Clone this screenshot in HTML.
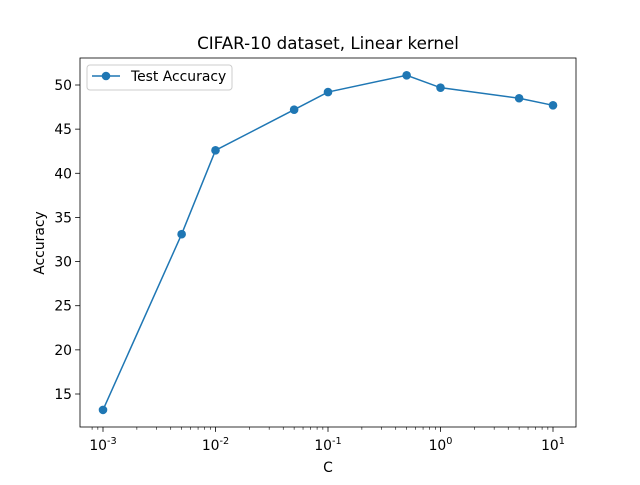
<!DOCTYPE html>
<html><head><meta charset="utf-8"><style>body{margin:0;background:#fff}svg{font-family:"DejaVu Sans","Liberation Sans",sans-serif}</style></head>
<body>
<svg id="c" width="640" height="480" xmlns="http://www.w3.org/2000/svg"></svg>
<script>
const cValues=[0.001,0.005,0.01,0.05,0.1,0.5,1,5,10];
const accValues=[13.2,33.1,42.6,47.2,49.2,51.1,49.7,48.5,47.7];
const yTicks=[15,20,25,30,35,40,45,50];
const xTickExps=[-3,-2,-1,0,1];
const svg=document.getElementById('c');
const NS='http://www.w3.org/2000/svg';
const L=80,R=576,T=58,B=427;
const xs=v=>103+(Math.log10(v)+3)*112.5;
const ys=v=>394-(v-15)*(309/35);
function mk(t,a,p){const e=document.createElementNS(NS,t);for(const k in a)e.setAttribute(k,a[k]);(p||svg).appendChild(e);return e;}
let e;
e=mk('rect',{x:L,y:T,width:R-L,height:B-T,fill:'none',stroke:'#000','stroke-width':0.8});


yTicks.forEach(v=>{const y=ys(v);
e=mk('line',{x1:L-4.9,x2:L,y1:y,y2:y,stroke:'#000','stroke-width':0.8});


e=mk('text',{x:L-8,y:y+5,'text-anchor':'end','font-size':13.9,fill:'#000'});e.textContent=v;

});
xTickExps.forEach(p=>{const x=xs(Math.pow(10,p));
e=mk('line',{x1:x,x2:x,y1:B,y2:B+4.9,stroke:'#000','stroke-width':0.8});


e=mk('text',{x:x,y:B+23,'text-anchor':'middle','font-size':13.9,fill:'#000'});
e.innerHTML='10<tspan dy="-6" font-size="9.7">'+p+'</tspan>';


if(p<1)for(let k=2;k<10;k++){const xm=xs(k*Math.pow(10,p));
e=mk('line',{x1:xm,x2:xm,y1:B,y2:B+2.8,stroke:'#000','stroke-width':0.6});

}});
[xs(0.0008),xs(0.0009)].forEach(xm=>{if(xm>L&&xm<R){e=mk('line',{x1:xm,x2:xm,y1:B,y2:B+2.8,stroke:'#000','stroke-width':0.6});

}});
const pts=cValues.map((c,i)=>xs(c)+','+ys(accValues[i])).join(' ');
e=mk('polyline',{points:pts,fill:'none',stroke:'#1f77b4','stroke-width':1.5});


cValues.forEach((c,i)=>{e=mk('circle',{cx:xs(c),cy:ys(accValues[i]),r:4.3,fill:'#1f77b4'});

});
e=mk('text',{x:328,y:49,'text-anchor':'middle','font-size':16.7});e.textContent='CIFAR-10 dataset, Linear kernel';


e=mk('text',{x:328,y:472,'text-anchor':'middle','font-size':13.9});e.textContent='C';


e=mk('text',{x:44,y:243,'text-anchor':'middle','font-size':13.9,transform:'rotate(-90 44 243)'});e.textContent='Accuracy';


const g=mk('g',{});


mk('rect',{x:87,y:65,width:145,height:25,rx:3,fill:'#fff',stroke:'#ccc','stroke-width':1},g);
mk('line',{x1:92,x2:120,y1:76,y2:76,stroke:'#1f77b4','stroke-width':1.5},g);
mk('circle',{cx:106,cy:76,r:4.3,fill:'#1f77b4'},g);
e=mk('text',{x:131,y:81,'font-size':13.9},g);e.textContent='Test Accuracy';


</script>
</body></html>
